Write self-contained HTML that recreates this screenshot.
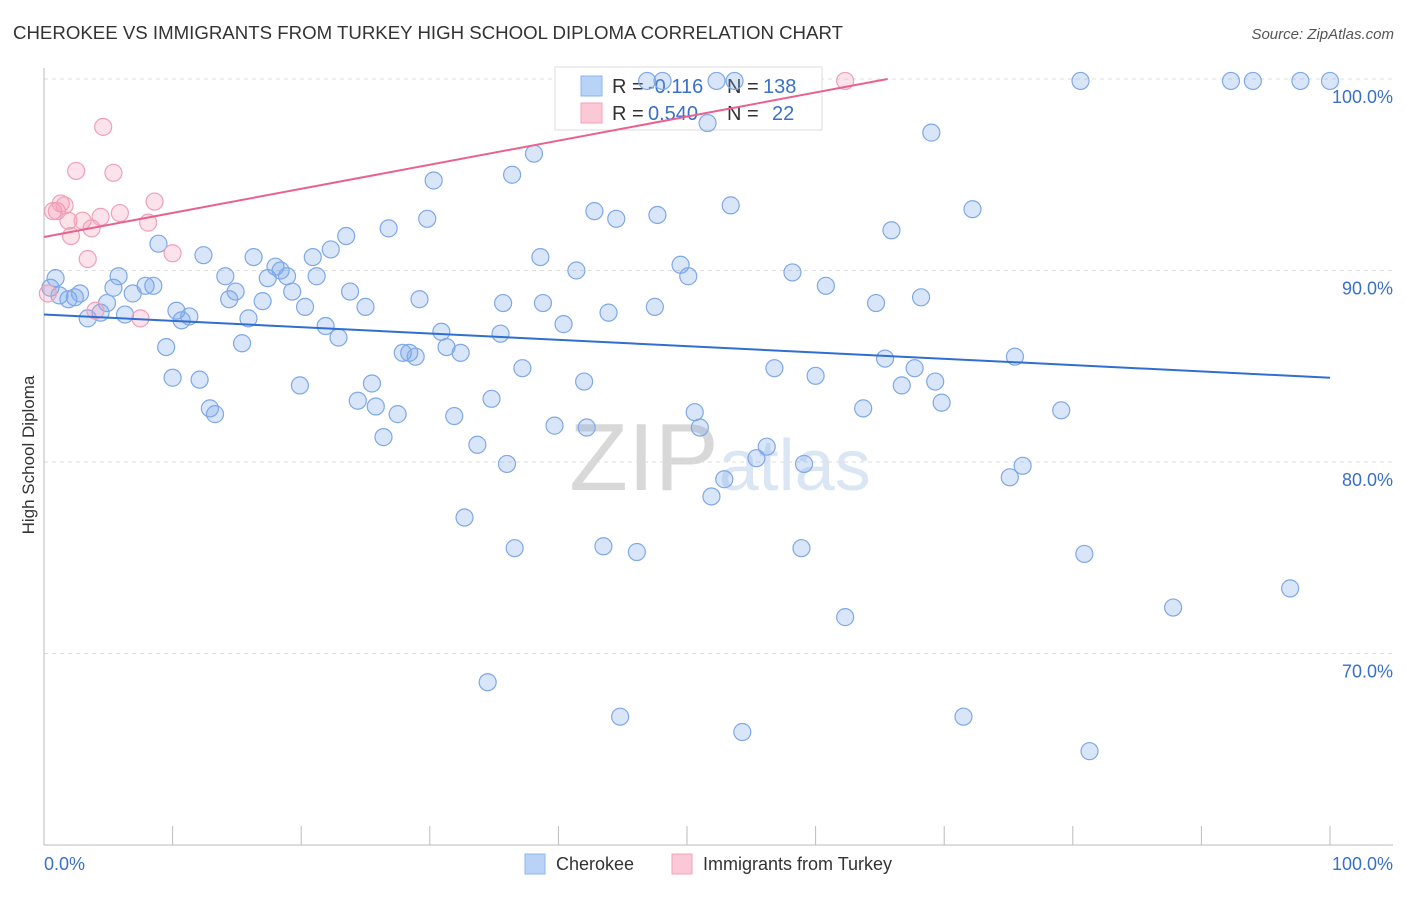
<!DOCTYPE html>
<html><head><meta charset="utf-8"><style>
body{margin:0;background:#fff;font-family:"Liberation Sans",sans-serif;}
svg text{font-family:"Liberation Sans",sans-serif;}
</style></head><body>
<svg id="chart" width="1406" height="892" xmlns="http://www.w3.org/2000/svg">
<text x="13" y="39" font-size="18" fill="#333" textLength="830" lengthAdjust="spacingAndGlyphs">CHEROKEE VS IMMIGRANTS FROM TURKEY HIGH SCHOOL DIPLOMA CORRELATION CHART</text>
<text x="1394" y="39" font-size="15" fill="#555" text-anchor="end" font-style="italic">Source: ZipAtlas.com</text>
<text transform="translate(34,455) rotate(-90)" font-size="17" fill="#333" text-anchor="middle">High School Diploma</text>
<text x="720" y="490" font-size="96" fill="#ddd" text-anchor="middle" font-family="Liberation Serif"><tspan fill="#d8d8d8">ZIP</tspan><tspan fill="#dbe6f5" font-family="Liberation Sans" font-size="72">atlas</tspan></text>
<g id="grid"></g><g id="axes"></g>
<g>
<rect x="555" y="67" width="267" height="63" fill="#fff" stroke="#ddd"/>
<rect x="581" y="76" width="21" height="20" fill="#b8d3f5" stroke="#8ab4ec"/>
<rect x="581" y="103" width="21" height="20" fill="#fbc8d6" stroke="#f3a3ba"/>
<text x="612" y="93" font-size="20" fill="#333">R =</text>
<text x="648" y="93" font-size="20" fill="#3a70c8">-0.116</text>
<text x="727" y="93" font-size="20" fill="#333">N =</text>
<text x="763" y="93" font-size="20" fill="#3a70c8">138</text>
<text x="612" y="120" font-size="20" fill="#333">R =</text>
<text x="648" y="120" font-size="20" fill="#3a70c8">0.540</text>
<text x="727" y="120" font-size="20" fill="#333">N =</text>
<text x="772" y="120" font-size="20" fill="#3a70c8">22</text>
</g>
<g id="points"></g><g id="trends"></g>
<g>
<rect x="525" y="854" width="20" height="20" fill="#b8d3f5" stroke="#8ab4ec"/>
<text x="556" y="870" font-size="18" fill="#333">Cherokee</text>
<rect x="672" y="854" width="20" height="20" fill="#fbc8d6" stroke="#f3a3ba"/>
<text x="703" y="870" font-size="18" fill="#333">Immigrants from Turkey</text>
</g>
</svg>
<script>
const blueX=[0.9,0.5,1.2,1.9,2.4,2.8,3.4,4.4,4.9,5.4,5.8,6.3,6.9,7.9,8.5,8.9,9.5,10.0,10.3,10.7,11.3,12.1,12.4,12.9,13.3,14.1,14.4,14.9,15.4,15.9,16.3,17.0,17.4,18.0,18.4,18.9,19.3,19.9,20.3,20.9,21.2,21.9,22.3,22.9,23.5,23.8,24.4,25.0,25.5,25.8,26.4,26.8,27.5,27.9,28.4,28.9,29.2,29.8,30.3,30.9,31.3,31.9,32.4,32.7,33.7,34.5,34.8,35.7,35.5,36.0,36.4,36.6,37.2,38.1,38.6,38.8,39.7,40.4,41.4,42.0,42.2,42.8,43.5,43.9,44.5,44.8,46.1,47.5,47.7,48.1,46.9,49.5,50.1,50.6,51.0,51.6,51.9,52.3,52.9,53.4,53.7,54.3,55.4,56.2,56.8,58.2,59.1,58.9,60.0,60.8,62.3,63.7,64.7,65.4,65.9,66.7,67.7,68.2,69.0,69.3,69.8,71.5,72.2,75.1,75.5,76.1,79.1,80.6,80.9,81.3,87.8,92.3,94.0,96.9,97.7,100.0];
const blueY=[89.6,89.1,88.7,88.5,88.6,88.8,87.5,87.8,88.3,89.1,89.7,87.7,88.8,89.2,89.2,91.4,86.0,84.4,87.9,87.4,87.6,84.3,90.8,82.8,82.5,89.7,88.5,88.9,86.2,87.5,90.7,88.4,89.6,90.2,90.0,89.7,88.9,84.0,88.1,90.7,89.7,87.1,91.1,86.5,91.8,88.9,83.2,88.1,84.1,82.9,81.3,92.2,82.5,85.7,85.7,85.5,88.5,92.7,94.7,86.8,86.0,82.4,85.7,77.1,80.9,68.5,83.3,88.3,86.7,79.9,95.0,75.5,84.9,96.1,90.7,88.3,81.9,87.2,90.0,84.2,81.8,93.1,75.6,87.8,92.7,66.7,75.3,88.1,92.9,99.9,99.9,90.3,89.7,82.6,81.8,97.7,78.2,99.9,79.1,93.4,99.9,65.9,80.2,80.8,84.9,89.9,79.9,75.5,84.5,89.2,71.9,82.8,88.3,85.4,92.1,84.0,84.9,88.6,97.2,84.2,83.1,66.7,93.2,79.2,85.5,79.8,82.7,99.9,75.2,64.9,72.4,99.9,99.9,73.4,99.9,99.9];
const pinkX=[0.3,0.7,1.0,1.3,1.6,1.9,2.1,2.5,3.0,3.4,3.7,4.0,4.4,4.6,5.4,5.9,7.5,8.1,8.6,10.0,62.3];
const pinkY=[88.8,93.1,93.1,93.5,93.4,92.6,91.8,95.2,92.6,90.6,92.2,87.9,92.8,97.5,95.1,93.0,87.5,92.5,93.6,90.9,99.9];
const blueTrend=[[0,87.7],[100,84.4]];
const pinkTrend=[[0,91.75],[65.6,100]];
const yTicks=[100,90,80,70];
const yTickLabels=["100.0%","90.0%","80.0%","70.0%"];
const xTicks=[0,10,20,30,40,50,60,70,80,90,100];
const NS="http://www.w3.org/2000/svg";
const sx=v=>44+v*12.86, sy=v=>79+(100-v)*19.15;
function mk(tag,attrs,parent){const e=document.createElementNS(NS,tag);for(const k in attrs)e.setAttribute(k,attrs[k]);document.getElementById(parent).appendChild(e);return e;}
yTicks.forEach((t,i)=>{
 const l=mk('line',{x1:44,x2:1393,y1:sy(t),y2:sy(t),stroke:'#ddd','stroke-dasharray':'4,4'},'grid');
 
 
 const tx=mk('text',{x:1393,y:sy(t)+24,'font-size':18,fill:'#3a70c8','text-anchor':'end'},'grid');
 tx.textContent=yTickLabels[i];
 
 
});
const ax=mk('line',{x1:44,x2:44,y1:68,y2:845,stroke:'#bbb'},'axes');


const bx=mk('line',{x1:44,x2:1393,y1:845,y2:845,stroke:'#bbb'},'axes');


xTicks.forEach(t=>{const l=mk('line',{x1:sx(t),x2:sx(t),y1:826,y2:845,stroke:'#bbb'},'axes');
 
 });
[["0.0%",44,'start'],["100.0%",1393,'end']].forEach(a=>{const t=mk('text',{x:a[1],y:870,'font-size':18,fill:'#3a70c8','text-anchor':a[2]},'axes');t.textContent=a[0];
 
 });
blueX.forEach((x,i)=>{const c=mk('circle',{cx:sx(x),cy:sy(blueY[i]),r:8.5,fill:'rgba(120,165,235,0.28)',stroke:'#7ea8e6','stroke-width':1.2},'points');
 
 });
pinkX.forEach((x,i)=>{const c=mk('circle',{cx:sx(x),cy:sy(pinkY[i]),r:8.5,fill:'rgba(245,150,180,0.28)',stroke:'#f0a0b8','stroke-width':1.2},'points');
 
 });
const bt=mk('line',{x1:sx(blueTrend[0][0]),y1:sy(blueTrend[0][1]),x2:sx(blueTrend[1][0]),y2:sy(blueTrend[1][1]),stroke:'#2f6fd0','stroke-width':2},'trends');


const pt=mk('line',{x1:sx(pinkTrend[0][0]),y1:sy(pinkTrend[0][1]),x2:sx(pinkTrend[1][0]),y2:sy(pinkTrend[1][1]),stroke:'#e8628e','stroke-width':2},'trends');


</script>
</body></html>
